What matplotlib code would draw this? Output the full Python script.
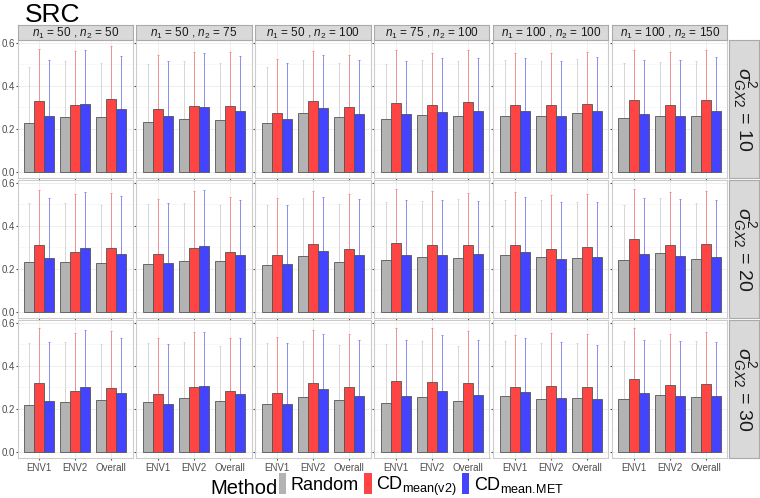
import matplotlib
matplotlib.use("Agg")
import matplotlib.pyplot as plt
from matplotlib.patches import Patch
import numpy as np

plt.rcParams['font.family'] = ['Liberation Sans', 'DejaVu Sans']
plt.rcParams['mathtext.fontset'] = 'custom'
plt.rcParams['mathtext.rm'] = 'Liberation Sans'
plt.rcParams['mathtext.it'] = 'Liberation Sans:italic'
plt.rcParams['mathtext.bf'] = 'Liberation Sans:bold'

# facets
col_labels = [r'$n_1$ = 50 , $n_2$ = 50', r'$n_1$ = 50 , $n_2$ = 75',
              r'$n_1$ = 50 , $n_2$ = 100', r'$n_1$ = 75 , $n_2$ = 100',
              r'$n_1$ = 100 , $n_2$ = 100', r'$n_1$ = 100 , $n_2$ = 150']
row_labels = [r'$\sigma^2_{GX2}$ = 10', r'$\sigma^2_{GX2}$ = 20', r'$\sigma^2_{GX2}$ = 30']
envs = ['ENV1', 'ENV2', 'Overall']
methods = ['Random', r'CD$_{\mathrm{mean(v2)}}$', r'CD$_{\mathrm{mean.}\!\mathrm{MET}}$']

# mean values [row][col][env]
random_mean = [
    [[0.226, 0.254, 0.254], [0.231, 0.245, 0.240], [0.226, 0.273, 0.254],
     [0.245, 0.265, 0.262], [0.262, 0.259, 0.276], [0.250, 0.262, 0.262]],
    [[0.232, 0.232, 0.225], [0.221, 0.235, 0.235], [0.216, 0.258, 0.230],
     [0.241, 0.253, 0.249], [0.264, 0.253, 0.250], [0.241, 0.274, 0.246]],
    [[0.216, 0.232, 0.241], [0.230, 0.249, 0.235], [0.222, 0.256, 0.239],
     [0.228, 0.255, 0.236], [0.260, 0.246, 0.250], [0.246, 0.266, 0.255]],
]
cdv2_mean = [
    [[0.330, 0.309, 0.338], [0.291, 0.307, 0.307], [0.273, 0.329, 0.301],
     [0.322, 0.313, 0.324], [0.310, 0.309, 0.315], [0.333, 0.313, 0.333]],
    [[0.312, 0.278, 0.295], [0.267, 0.298, 0.277], [0.263, 0.314, 0.291],
     [0.320, 0.309, 0.309], [0.309, 0.292, 0.302], [0.339, 0.309, 0.314]],
    [[0.319, 0.283, 0.297], [0.267, 0.300, 0.283], [0.275, 0.319, 0.302],
     [0.330, 0.323, 0.319], [0.303, 0.308, 0.302], [0.340, 0.309, 0.316]],
]
cdmet_mean = [
    [[0.259, 0.315, 0.291], [0.259, 0.304, 0.285], [0.245, 0.295, 0.267],
     [0.270, 0.278, 0.282], [0.282, 0.262, 0.284], [0.271, 0.262, 0.282]],
    [[0.249, 0.295, 0.267], [0.228, 0.305, 0.263], [0.222, 0.283, 0.264],
     [0.266, 0.264, 0.269], [0.278, 0.246, 0.255], [0.267, 0.260, 0.255]],
    [[0.235, 0.302, 0.272], [0.221, 0.306, 0.267], [0.221, 0.292, 0.261],
     [0.258, 0.281, 0.264], [0.280, 0.250, 0.246], [0.274, 0.261, 0.260]],
]
# upper error bar ends
random_up = [
    [[0.488, 0.518, 0.507], [0.504, 0.518, 0.505], [0.490, 0.521, 0.505],
     [0.501, 0.522, 0.515], [0.519, 0.515, 0.524], [0.505, 0.510, 0.518]],
    [[0.507, 0.507, 0.499], [0.502, 0.507, 0.497], [0.496, 0.528, 0.500],
     [0.510, 0.515, 0.524], [0.522, 0.519, 0.513], [0.499, 0.528, 0.507]],
    [[0.507, 0.510, 0.502], [0.507, 0.510, 0.491], [0.507, 0.515, 0.496],
     [0.502, 0.516, 0.491], [0.515, 0.508, 0.508], [0.515, 0.519, 0.515]],
]
cdv2_up = [
    [[0.574, 0.561, 0.584], [0.543, 0.557, 0.557], [0.527, 0.564, 0.546],
     [0.566, 0.555, 0.569], [0.555, 0.555, 0.560], [0.566, 0.557, 0.569]],
    [[0.566, 0.549, 0.552], [0.525, 0.563, 0.533], [0.528, 0.561, 0.549],
     [0.571, 0.561, 0.552], [0.556, 0.544, 0.549], [0.574, 0.558, 0.561]],
    [[0.575, 0.553, 0.561], [0.528, 0.556, 0.528], [0.533, 0.566, 0.547],
     [0.575, 0.575, 0.561], [0.546, 0.555, 0.550], [0.575, 0.547, 0.556]],
]
cdmet_up = [
    [[0.522, 0.569, 0.541], [0.518, 0.555, 0.541], [0.505, 0.546, 0.522],
     [0.518, 0.529, 0.529], [0.532, 0.518, 0.533], [0.522, 0.522, 0.536]],
    [[0.528, 0.558, 0.538], [0.507, 0.566, 0.521], [0.496, 0.533, 0.524],
     [0.519, 0.521, 0.515], [0.533, 0.511, 0.510], [0.528, 0.524, 0.519]],
    [[0.510, 0.566, 0.528], [0.504, 0.556, 0.528], [0.505, 0.547, 0.519],
     [0.519, 0.543, 0.519], [0.528, 0.510, 0.499], [0.519, 0.515, 0.511]],
]

means = [random_mean, cdv2_mean, cdmet_mean]
ups = [random_up, cdv2_up, cdmet_up]
fills = ['#B3B3B3', '#FF4444', '#4444FF']
err_cols = ['#D6D6D6', '#F29090', '#8C8CF0']

W, H = 760, 498
fig = plt.figure(figsize=(W / 100, H / 100), dpi=100)


def px(x0, y0, w, h):
    return [x0 / W, 1 - (y0 + h) / H, w / W, h / H]


pw, gap = 115.3, 3.6
ph = 138
row_top = [40, 180, 320]
bw = 0.28
x = np.arange(1, 4)

for r in range(3):
    for c in range(6):
        left = 17.5 + c * (pw + gap)
        ax = fig.add_axes(px(left, row_top[r], pw, ph))
        for m in range(3):
            xm = x + (m - 1) * bw
            mv = np.array(means[m][r][c])
            uv = np.array(ups[m][r][c])
            ax.errorbar(xm, mv, yerr=[np.zeros(3), uv - mv], fmt='none',
                        ecolor=err_cols[m], elinewidth=0.7, capsize=0.8,
                        capthick=0.7, zorder=2)
            ax.bar(xm, mv, width=bw, color=fills[m], edgecolor='#555555',
                   linewidth=0.6, zorder=3)
        ax.set_xlim(0.4, 3.6)
        ax.set_ylim(-0.029, 0.614)
        ax.set_yticks([0.0, 0.2, 0.4, 0.6])
        ax.set_yticks([0.1, 0.3, 0.5], minor=True)
        ax.set_xticks(x)
        ax.grid(True, which='major', color='#EBEBEB', linewidth=0.6, zorder=0)
        ax.grid(True, which='minor', axis='y', color='#F4F4F4', linewidth=0.4, zorder=0)
        ax.set_axisbelow(True)
        for s in ax.spines.values():
            s.set_color('#CCCCCC')
            s.set_linewidth(0.8)
        ax.tick_params(which='minor', length=0)
        ax.tick_params(length=1.5, color='#4D4D4D', labelcolor='#4D4D4D', pad=0.5)
        if c == 0:
            ax.set_yticklabels(['0.0', '0.2', '0.4', '0.6'], fontsize=7)
        else:
            ax.set_yticklabels([])
        if r == 2:
            ax.set_xticklabels(envs, fontsize=7)
            ax.tick_params(axis='x', pad=2)
        else:
            ax.set_xticklabels([])
        # top strip
        if r == 0:
            sax = fig.add_axes(px(left, 25, pw, 15))
            sax.set_facecolor('#D9D9D9')
            sax.set_xticks([])
            sax.set_yticks([])
            for s in sax.spines.values():
                s.set_color('#AAAAAA')
                s.set_linewidth(0.8)
            sax.text(0.5, 0.45, col_labels[c], ha='center', va='center',
                     fontsize=8.5, color='#1A1A1A', transform=sax.transAxes)
    # right strip
    rax = fig.add_axes(px(729, row_top[r], 30, ph))
    rax.set_facecolor('#D9D9D9')
    rax.set_xticks([])
    rax.set_yticks([])
    for s in rax.spines.values():
        s.set_color('#AAAAAA')
        s.set_linewidth(0.8)
    rax.text(0.5, 0.5, row_labels[r], ha='center', va='center', rotation=-90,
             fontsize=14, color='#1A1A1A', transform=rax.transAxes)

fig.text(25 / W, 1 - 3 / H, 'SRC', ha='left', va='top', fontsize=19)

fig.text(210 / W, 1 - 488 / H, 'Method', ha='left', va='center', fontsize=14.5)
handles = [Patch(facecolor=fills[m], edgecolor='none') for m in range(3)]
fig.legend(handles, methods, loc='center left', bbox_to_anchor=(279 / W, 1 - 485.5 / H),
           ncol=3, frameon=False, fontsize=13, handlelength=0.4, handleheight=1.4,
           handletextpad=0.25, columnspacing=0.3, borderpad=0, borderaxespad=0)

fig.savefig('out.png', dpi=100)
